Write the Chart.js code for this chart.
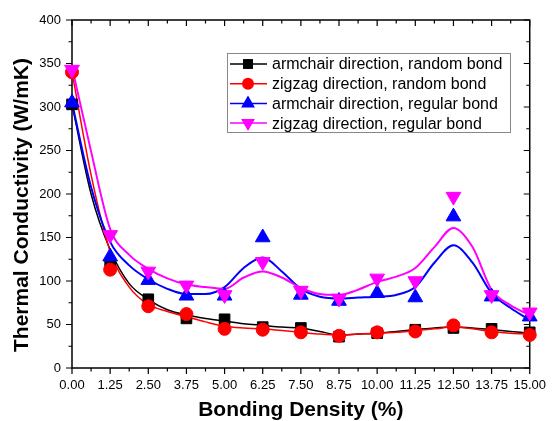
<!DOCTYPE html>
<html>
<head>
<meta charset="utf-8">
<script src="https://cdn.jsdelivr.net/npm/chart.js@4/dist/chart.umd.min.js"></script>
<style>
  body { margin: 0; background: #fff; }
</style>
</head>
<body>
<canvas id="tcChart" width="556" height="421"></canvas>
<script>
// measured points
const bondingDensity = [0, 1.25, 2.5, 3.75, 5, 6.25, 7.5, 8.75, 10, 11.25, 12.5, 13.75, 15];
const armchairRandom = [303, 118, 79, 57, 56, 47, 46, 36, 40, 44, 46, 45, 41];
const zigzagRandom   = [340, 113, 71, 62, 45, 44, 41, 37, 41, 42, 49, 41, 38];
const armchairRegular = [305, 128, 101, 83, 83, 150, 84, 77, 86, 81, 174, 82, 59];
const zigzagRegular   = [343, 153, 111, 95, 84, 122, 89, 80, 103, 100, 197, 84, 64];

// fitted curves
const fitX = [0, 0.625, 1.25, 1.875, 2.5, 3.125, 3.75, 4.375, 5, 5.625, 6.25, 6.875, 7.5,
              8.125, 8.75, 9.375, 10, 10.625, 11.25, 11.875, 12.5, 13.125, 13.75, 14.375, 15];
const armchairRandomFit = [303, 200, 136, 97, 79, 67, 61, 57, 54, 51, 49, 47, 46,
                           42, 38, 39, 40, 42, 44, 46, 47, 46, 44, 42, 40];
const zigzagRandomFit   = [340, 222, 134, 93, 73, 65, 59, 53, 48, 46, 45, 43, 41,
                           39, 38, 39, 40, 41, 43, 45, 47, 45, 42, 40, 39];
const armchairRegularFit = [305, 208, 145, 118, 102, 91, 85, 85, 93, 115, 127, 111, 91,
                            82, 80, 81, 82, 84, 93, 121, 141, 121, 86, 69, 55];
const zigzagRegularFit   = [346, 249, 160, 130, 114, 103, 96, 93, 91, 104, 111, 104, 92,
                            85, 84, 90, 99, 105, 115, 139, 161, 139, 90, 72, 61];

const seriesNames = [
    'armchair direction, random bond',
    'zigzag direction, random bond',
    'armchair direction, regular bond',
    'zigzag direction, regular bond'
];
const seriesColors = ['#000000', '#ff0000', '#0000ff', '#ff00ff'];
const seriesMarkers = ['rect', 'circle', 'triangle', 'triangle'];

const FONT = '"Liberation Sans", Arial, sans-serif';

function toXY(xs, ys) {
    return xs.map((x, i) => ({ x: x, y: ys[i] }));
}

function pointSet(idx, values, radius, rotation) {
    return {
        label: seriesNames[idx],
        type: 'scatter',
        data: toXY(bondingDensity, values),
        showLine: false,
        pointStyle: seriesMarkers[idx],
        pointRotation: rotation,
        pointRadius: radius,
        pointBackgroundColor: seriesColors[idx],
        pointBorderColor: seriesColors[idx],
        pointBorderWidth: 1,
        clip: false,
        order: 4 - idx
    };
}

function fitSet(idx, values, width) {
    return {
        label: seriesNames[idx] + ' fit',
        type: 'line',
        data: toXY(fitX, values),
        borderColor: seriesColors[idx],
        borderWidth: width,
        pointRadius: 0,
        cubicInterpolationMode: 'monotone',
        fill: false,
        order: 10 - idx
    };
}

// draws a legend marker by hand
function drawMarker(ctx, kind, x, y, r, color, down) {
    ctx.fillStyle = color;
    ctx.beginPath();
    if (kind === 'rect') {
        const s = r * Math.SQRT1_2;
        ctx.rect(x - s, y - s, 2 * s, 2 * s);
    } else if (kind === 'circle') {
        ctx.arc(x, y, r, 0, Math.PI * 2);
    } else {
        const d = down ? -1 : 1;
        ctx.moveTo(x, y - d * r);
        ctx.lineTo(x + r * 0.866, y + d * r * 0.5);
        ctx.lineTo(x - r * 0.866, y + d * r * 0.5);
        ctx.closePath();
    }
    ctx.fill();
}

const frameAndTicks = {
    id: 'frameAndTicks',
    beforeDatasetsDraw(chart) {
        const ctx = chart.ctx;
        const a = chart.chartArea;
        const xs = chart.scales.x;
        const ys = chart.scales.y;
        ctx.save();
        ctx.strokeStyle = '#000';
        ctx.lineWidth = 1.5;
        ctx.strokeRect(a.left, a.top, a.right - a.left, a.bottom - a.top);
        ctx.lineWidth = 1.2;
        ctx.beginPath();
        for (let i = 0; i <= 24; i++) {
            const px = xs.getPixelForValue(i * 0.625);
            const len = i % 2 === 0 ? 6 : 3.5;
            ctx.moveTo(px, a.bottom); ctx.lineTo(px, a.bottom + len);
            ctx.moveTo(px, a.top); ctx.lineTo(px, a.top + len);
        }
        for (let i = 0; i <= 16; i++) {
            const py = ys.getPixelForValue(i * 25);
            const len = i % 2 === 0 ? 6 : 3.5;
            ctx.moveTo(a.left, py); ctx.lineTo(a.left - len, py);
            ctx.moveTo(a.right, py); ctx.lineTo(a.right - len, py);
        }
        ctx.stroke();

        // y axis title, a bit below the plot centre as in the original
        ctx.translate(22, 205);
        ctx.rotate(-Math.PI / 2);
        ctx.font = 'bold 21px ' + FONT;
        ctx.fillStyle = '#000';
        ctx.textAlign = 'center';
        ctx.textBaseline = 'middle';
        ctx.fillText('Thermal Conductivity (W/mK)', 0, 0);
        ctx.restore();
    },
    afterDraw(chart) {
        const ctx = chart.ctx;
        ctx.save();
        // legend box
        const bx = 227, by = 53, bw = 283, bh = 79;
        ctx.fillStyle = '#fff';
        ctx.fillRect(bx, by, bw, bh);
        ctx.strokeStyle = '#888';
        ctx.lineWidth = 1;
        ctx.strokeRect(bx + 0.5, by + 0.5, bw, bh);
        ctx.font = '16px ' + FONT;
        ctx.textBaseline = 'middle';
        ctx.textAlign = 'left';
        const radii = [7, 6, 8, 8];
        seriesNames.forEach((name, i) => {
            const cy = by + 11 + i * 19.7;
            ctx.strokeStyle = seriesColors[i];
            ctx.lineWidth = 1.5;
            ctx.beginPath();
            ctx.moveTo(bx + 3, cy);
            ctx.lineTo(bx + 40, cy);
            ctx.stroke();
            drawMarker(ctx, seriesMarkers[i], bx + 21, cy, radii[i], seriesColors[i], i === 3);
            ctx.fillStyle = '#000';
            ctx.fillText(name, bx + 45, cy + 1);
        });
        ctx.restore();
    }
};

const ctx = document.getElementById('tcChart').getContext('2d');
new Chart(ctx, {
    type: 'scatter',
    data: {
        datasets: [
            fitSet(0, armchairRandomFit, 1.5),
            fitSet(1, zigzagRandomFit, 1.5),
            fitSet(2, armchairRegularFit, 2),
            fitSet(3, zigzagRegularFit, 2),
            pointSet(0, armchairRandom, 7.5, 0),
            pointSet(1, zigzagRandom, 6.5, 0),
            pointSet(2, armchairRegular, 8.5, 0),
            pointSet(3, zigzagRegular, 8.5, 180)
        ]
    },
    options: {
        responsive: false,
        animation: false,
        layout: { padding: { left: 0, right: 17, top: 20, bottom: 0 } },
        plugins: {
            legend: { display: false },
            tooltip: { enabled: false }
        },
        scales: {
            x: {
                type: 'linear',
                min: 0,
                max: 15,
                afterFit: scale => { scale.height = 53; },
                grid: { display: false, drawTicks: false },
                border: { display: false },
                ticks: {
                    stepSize: 1.25,
                    autoSkip: false,
                    maxRotation: 0,
                    padding: 10,
                    color: '#000',
                    font: { family: FONT, size: 13 },
                    callback: v => Number(v).toFixed(2)
                },
                title: {
                    display: true,
                    text: 'Bonding Density (%)',
                    color: '#000',
                    font: { family: FONT, size: 21, weight: 'bold', lineHeight: 1.05 },
                    padding: { top: 0, bottom: 0 }
                }
            },
            y: {
                min: 0,
                max: 400,
                afterFit: scale => { scale.width = 72; },
                grid: { display: false, drawTicks: false },
                border: { display: false },
                ticks: {
                    stepSize: 50,
                    padding: 11,
                    color: '#000',
                    font: { family: FONT, size: 13 }
                }
            }
        }
    },
    plugins: [frameAndTicks]
});
</script>
</body>
</html>
